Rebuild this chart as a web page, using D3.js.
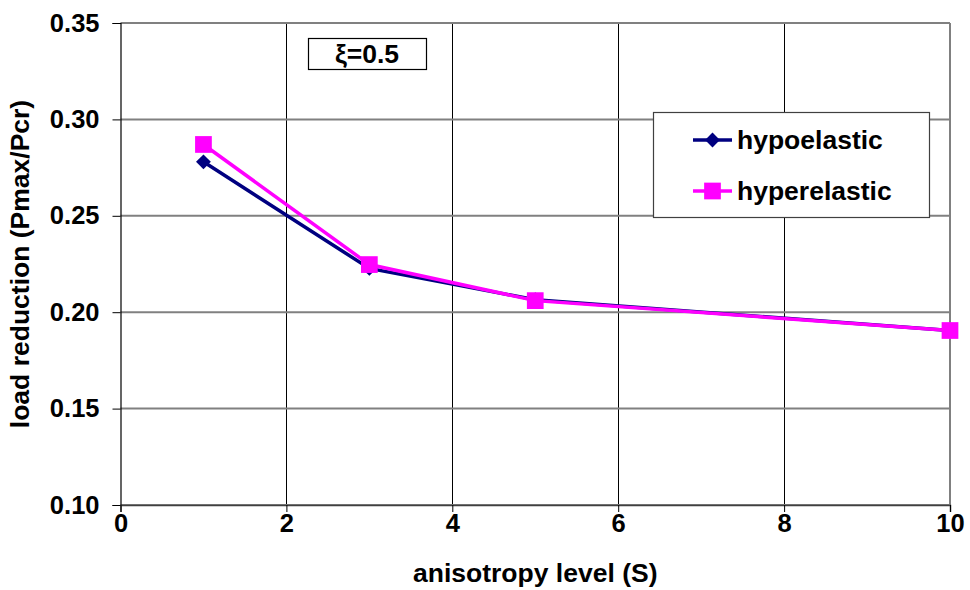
<!DOCTYPE html>
<html><head><meta charset="utf-8">
<script src="https://cdn.jsdelivr.net/npm/d3@7"></script>
<style>body{margin:0;background:#fff}svg{display:block}text{font-family:"Liberation Sans",Arial,sans-serif;font-weight:bold;fill:#000}</style>
</head><body><svg id="c" width="970" height="590"></svg>
<script>
const xValues = [1, 3, 5, 10];
const hypoelastic = [0.278, 0.2227, 0.2065, 0.1905];
const hyperelastic = [0.287, 0.2247, 0.206, 0.1905];
const xTicks = [0, 2, 4, 6, 8, 10];
const yTicks = [0.10, 0.15, 0.20, 0.25, 0.30, 0.35];
const seriesNames = ["hypoelastic", "hyperelastic"];
const seriesColors = ["#000080", "#FF00FF"];
const annotation = "ξ=0.5";
const xTitle = "anisotropy level (S)";
const yTitle = "load reduction (Pmax/Pcr)";

const svg = d3.select("#c");
const L = 120.5, R = 950, T = 23, B = 505;
const x = d3.scaleLinear().domain([0, 10]).range([L, R]);
const y = d3.scaleLinear().domain([0.10, 0.35]).range([B, T]);
const px = v => Math.round(x(v) - 0.5) + 0.5;

// vertical gridlines (black)
svg.append("g").selectAll("line").data(xTicks.filter(d => d > 0 && d < 10)).join("line")
  .attr("x1", d => px(d)).attr("x2", d => px(d)).attr("y1", T).attr("y2", B)
  .attr("stroke", "#000").attr("stroke-width", 1);
// horizontal gridlines (gray)
svg.append("g").selectAll("line").data(yTicks).join("line")
  .attr("x1", L).attr("x2", R).attr("y1", d => y(d)).attr("y2", d => y(d))
  .attr("stroke", "#808080").attr("stroke-width", 2);
// right border
svg.append("line").attr("x1", R).attr("x2", R).attr("y1", T).attr("y2", B)
  .attr("stroke", "#808080").attr("stroke-width", 2);

// axes
const yAxis = d3.axisLeft(y).tickValues(yTicks).tickFormat(d3.format(".2f")).tickSize(8).tickPadding(13);
const gy = svg.append("g").attr("transform", `translate(${L},0)`).call(yAxis);
gy.select(".domain").attr("stroke", "#000").attr("stroke-width", 1.2);
gy.selectAll(".tick line").attr("stroke", "#000");
gy.selectAll("text").style("font-size", "25.5px").attr("fill", "#000");

const xAxis = d3.axisBottom(x).tickValues(xTicks).tickFormat(d3.format("d")).tickSize(7).tickPadding(2);
const gx = svg.append("g").attr("transform", `translate(0,${B})`).call(xAxis);
gx.select(".domain").attr("stroke", "#404040").attr("stroke-width", 1.5);
gx.selectAll(".tick line").attr("stroke", "#000");
gx.selectAll("text").style("font-size", "25.5px").attr("fill", "#000");

// titles
svg.append("text").attr("x", (L + R) / 2).attr("y", 582).attr("text-anchor", "middle")
  .style("font-size", "26.5px").text(xTitle);
svg.append("text").attr("transform", `translate(29,${(T + B) / 2}) rotate(-90)`).attr("text-anchor", "middle")
  .style("font-size", "26.5px").text(yTitle);

// series
const series = [hypoelastic, hyperelastic];
const line = d3.line().x((d, i) => x(xValues[i])).y(d => y(d));
series.forEach((s, k) => {
  svg.append("path").datum(s).attr("d", line).attr("fill", "none")
    .attr("stroke", seriesColors[k]).attr("stroke-width", 3.5);
});
const diamond = d3.symbol().type(d3.symbolSquare).size(110);
const square = d3.symbol().type(d3.symbolSquare).size(280);
svg.append("g").selectAll("path").data(hypoelastic).join("path")
  .attr("d", diamond).attr("fill", seriesColors[0])
  .attr("transform", (d, i) => `translate(${x(xValues[i])},${y(d)}) rotate(45)`);
svg.append("g").selectAll("path").data(hyperelastic).join("path")
  .attr("d", square).attr("fill", seriesColors[1])
  .attr("transform", (d, i) => `translate(${x(xValues[i])},${y(d)})`);

// annotation box
svg.append("rect").attr("x", 308.5).attr("y", 38.5).attr("width", 118).attr("height", 31)
  .attr("fill", "#fff").attr("stroke", "#000").attr("stroke-width", 1.2);
svg.append("text").attr("x", 367).attr("y", 63).attr("text-anchor", "middle")
  .style("font-size", "26.5px").text(annotation);

// legend
svg.append("rect").attr("x", 653.5).attr("y", 112.5).attr("width", 276).attr("height", 105)
  .attr("fill", "#fff").attr("stroke", "#404040").attr("stroke-width", 1.2);
const ly = [140, 191];
seriesNames.forEach((n, k) => {
  svg.append("line").attr("x1", 693).attr("x2", 732).attr("y1", ly[k]).attr("y2", ly[k])
    .attr("stroke", seriesColors[k]).attr("stroke-width", 3.5);
  svg.append("path").attr("d", k === 0 ? diamond : square).attr("fill", seriesColors[k])
    .attr("transform", `translate(712.5,${ly[k]}) rotate(${k === 0 ? 45 : 0})`);
  svg.append("text").attr("x", 737).attr("y", ly[k] + 9).style("font-size", "26.5px").text(n);
});
</script></body></html>
